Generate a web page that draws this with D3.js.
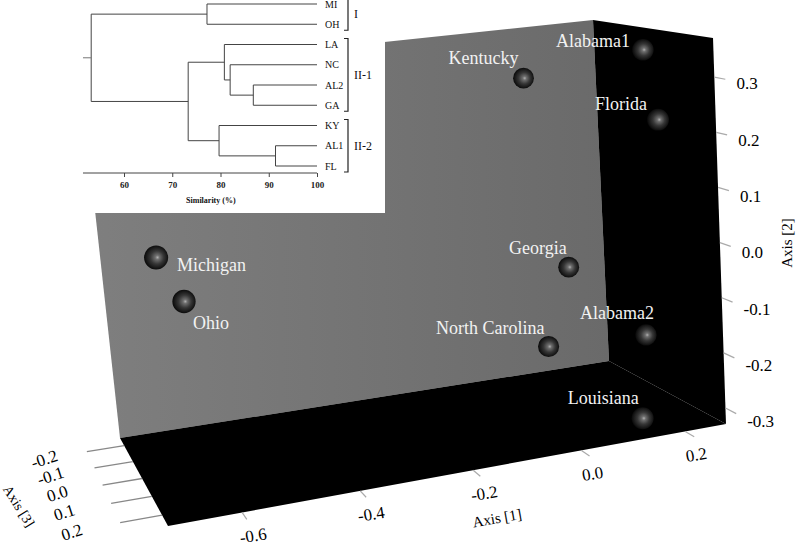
<!DOCTYPE html>
<html>
<head>
<meta charset="utf-8">
<script src="https://cdn.jsdelivr.net/npm/d3@7"></script>
<style>
body { margin: 0; background: #fff; }
svg { display: block; }
</style>
</head>
<body>
<svg id="chart" width="800" height="548" font-family="'Liberation Serif', 'Times New Roman', serif"></svg>
<script>
// site scores on the three ordination axes
var sites = ["Michigan", "Ohio", "Kentucky", "Georgia", "North Carolina", "Alabama1", "Florida", "Alabama2", "Louisiana"];
var axis1 = [-0.685, -0.630, 0.065, 0.118, 0.065, 0.226, 0.226, 0.226, 0.160];
var axis2 = [0.102, -0.007, 0.291, -0.077, -0.221, 0.343, 0.217, -0.203, -0.322];
var axis3 = [0.165, 0.065, -0.091, -0.048, -0.039, 0.089, 0.140, 0.051, 0.164];

var ticks1 = [-0.6, -0.4, -0.2, 0.0, 0.2];
var ticks2 = [-0.3, -0.2, -0.1, 0.0, 0.1, 0.2, 0.3];
var ticks3 = [-0.2, -0.1, 0.0, 0.1, 0.2];

// cluster tree, internal node = [similarity, left, right]
var tree = [53.2,
  [77.2, "MI", "OH"],
  [73.3,
    [80.8, "LA", [82.0, "NC", [86.8, "AL2", "GA"]]],
    [79.7, "KY", [91.4, "AL1", "FL"]]]];
var groupNames = ["I", "II-1", "II-2"];
var groupSpans = [["MI", "OH"], ["LA", "GA"], ["KY", "FL"]];
var simTicks = [60, 70, 80, 90, 100];

var serif = "'Liberation Serif', 'Times New Roman', serif";
var fmt = d3.formatLocale({ decimal: ".", thousands: ",", grouping: [3], currency: ["", ""], minus: "-" }).format(".1f");
var svg = d3.select("#chart");
var defs = svg.append("defs");

// ---- 3d box ----
var x1 = d3.scaleLinear().domain([-0.721, 0.281]).range([0, 1]);
var x2 = d3.scaleLinear().domain([-0.329, 0.371]).range([0, 1]);
var x3 = d3.scaleLinear().domain([-0.25, 0.255]).range([0, 1]);

// screen position of the box corners, key = axis1 hi, axis2 hi, axis3 front
var corner = {
  "000": [120, 438], "100": [609, 361], "010": [80, 74], "110": [593, 20],
  "001": [168, 526], "101": [726, 424], "011": [128, 114], "111": [713, 38]
};
function depth(i, k) { return 1 + 0.1 * i - 0.13 * k; }

// perspective-weighted trilinear map, returns [x, y, depth]
function project(a, b, c) {
  var u = [x1(a), x2(b), x3(c)], sx = 0, sy = 0, sw = 0;
  for (var i = 0; i < 2; i++) for (var j = 0; j < 2; j++) for (var k = 0; k < 2; k++) {
    var w = (i ? u[0] : 1 - u[0]) * (j ? u[1] : 1 - u[1]) * (k ? u[2] : 1 - u[2]) * depth(i, k);
    var p = corner["" + i + j + k];
    sx += w * p[0]; sy += w * p[1]; sw += w;
  }
  return [sx / sw, sy / sw, sw];
}

var d1 = x1.domain(), d2 = x2.domain(), d3d = x3.domain();
function face(pts) {
  return "M" + pts.map(function(p) { var q = project(p[0], p[1], p[2]); return q[0] + "," + q[1]; }).join("L") + "Z";
}

var wallGrad = defs.append("linearGradient").attr("id", "wall")
  .attr("x1", "0%").attr("x2", "100%").attr("y1", "0%").attr("y2", "0%");
wallGrad.append("stop").attr("offset", "0%").attr("stop-color", "#7f7f7f");
wallGrad.append("stop").attr("offset", "100%").attr("stop-color", "#6a6a6a");

var ball = defs.append("radialGradient").attr("id", "ball")
  .attr("cx", "52%").attr("cy", "50%").attr("r", "50%").attr("fx", "56%").attr("fy", "50%");
ball.append("stop").attr("offset", "0%").attr("stop-color", "#b0b0b0");
ball.append("stop").attr("offset", "18%").attr("stop-color", "#6e6e6e");
ball.append("stop").attr("offset", "55%").attr("stop-color", "#363636");
ball.append("stop").attr("offset", "100%").attr("stop-color", "#0c0c0c");

var box = svg.append("g");
box.append("path").attr("fill", "url(#wall)")
  .attr("d", face([[d1[0], d2[0], d3d[0]], [d1[0], d2[1], d3d[0]], [d1[1], d2[1], d3d[0]], [d1[1], d2[0], d3d[0]]]));
box.append("path").attr("fill", "#000")
  .attr("d", face([[d1[1], d2[0], d3d[0]], [d1[1], d2[1], d3d[0]], [d1[1], d2[1], d3d[1]], [d1[1], d2[0], d3d[1]]]));
box.append("path").attr("fill", "#000")
  .attr("d", face([[d1[0], d2[0], d3d[0]], [d1[1], d2[0], d3d[0]], [d1[1], d2[0], d3d[1]], [d1[0], d2[0], d3d[1]]]));

var ax = svg.append("g").attr("font-size", 17).attr("font-family", serif).attr("fill", "#000");
// axis 1 along the front bottom edge
ticks1.forEach(function(v) {
  var a = project(v, d2[0], d3d[1]), b = project(v, d2[0], x3.invert(1.07));
  ax.append("line").attr("x1", a[0]).attr("y1", a[1]).attr("x2", b[0]).attr("y2", b[1])
    .attr("stroke", "#aaa").attr("stroke-width", 1.2);
  ax.append("text").attr("transform", "translate(" + (a[0] + 11) + "," + (a[1] + 23) + ") rotate(-9)")
    .attr("text-anchor", "middle").attr("dy", "0.35em").text(fmt(v));
});
// axis 2 up the front right edge
ticks2.forEach(function(v) {
  var a = project(d1[1], v, d3d[1]), b = project(d1[1], v, x3.invert(1.08)), t = project(d1[1], v, x3.invert(1.16));
  ax.append("line").attr("x1", a[0]).attr("y1", a[1]).attr("x2", b[0]).attr("y2", b[1])
    .attr("stroke", "#aaa").attr("stroke-width", 1.2);
  ax.append("text").attr("x", t[0]).attr("y", t[1] + 2).attr("dy", "0.35em").text(fmt(v));
});
// axis 3 along the left bottom edge
ticks3.forEach(function(v) {
  var a = project(d1[0], d2[0], v), b = project(x1.invert(-0.068), d2[0], v), t = project(x1.invert(-0.15), d2[0], v);
  ax.append("line").attr("x1", a[0]).attr("y1", a[1]).attr("x2", b[0]).attr("y2", b[1])
    .attr("stroke", "#888").attr("stroke-width", 1.3);
  ax.append("text").attr("transform", "translate(" + (t[0] + 3) + "," + t[1] + ") rotate(-18)")
    .attr("text-anchor", "middle").attr("dy", "0.35em").text(fmt(v));
});
ax.append("text").attr("transform", "translate(497,518) rotate(-10)").attr("font-size", 15)
  .attr("text-anchor", "middle").attr("dy", "0.35em").text("Axis [1]");
ax.append("text").attr("transform", "translate(787,243) rotate(-90)").attr("font-size", 15)
  .attr("text-anchor", "middle").attr("dy", "0.35em").text("Axis [2]");
ax.append("text").attr("transform", "translate(19,506) rotate(58)").attr("font-size", 14)
  .attr("text-anchor", "middle").attr("dy", "0.35em").text("Axis [3]");

// spheres, far ones first
var pts = sites.map(function(s, i) {
  var p = project(axis1[i], axis2[i], axis3[i]);
  return { name: s, x: p[0], y: p[1], z: p[2] };
}).sort(function(a, b) { return b.z - a.z; });

svg.append("g").selectAll("circle").data(pts).join("circle")
  .attr("cx", function(d) { return d.x; }).attr("cy", function(d) { return d.y; })
  .attr("r", function(d) { return 10.8 / d.z; })
  .attr("fill", "url(#ball)");

// label placement next to each sphere
var labelAt = {
  "Michigan": [21, 13.5, "start"], "Ohio": [9, 28, "start"],
  "Kentucky": [-5, -14, "end"], "Georgia": [-2, -13.5, "end"],
  "North Carolina": [-4, -13, "end"], "Alabama1": [-13, -3, "end"],
  "Florida": [-11, -10, "end"], "Alabama2": [8, -16, "end"], "Louisiana": [-4, -14, "end"]
};
svg.append("g").attr("font-size", 18).attr("font-family", serif).attr("fill", "#f2f2f2")
  .selectAll("text").data(pts).join("text")
  .attr("x", function(d) { return d.x + labelAt[d.name][0]; })
  .attr("y", function(d) { return d.y + labelAt[d.name][1]; })
  .attr("text-anchor", function(d) { return labelAt[d.name][2]; })
  .text(function(d) { return d.name; });

// ---- dendrogram inset ----
svg.append("rect").attr("x", 0).attr("y", 0).attr("width", 385).attr("height", 213).attr("fill", "#fff");
var dg = svg.append("g").attr("font-family", serif);

var root = d3.hierarchy(tree, function(d) { return Array.isArray(d) ? d.slice(1) : null; });
var leaves = root.leaves().map(function(d) { return d.data; });
var simX = d3.scaleLinear().domain([60, 100]).range([124, 317]);
var leafY = d3.scalePoint().domain(leaves).range([4, 166]);
var simStart = 51.5;

root.eachAfter(function(n) {
  if (n.children) {
    n.x = simX(n.data[0]);
    n.y = d3.mean(n.children, function(c) { return c.y; });
  } else {
    n.x = simX(100);
    n.y = leafY(n.data);
  }
});

dg.selectAll("path.link").data(root.descendants().filter(function(n) { return n.children; }))
  .join("path").attr("class", "link")
  .attr("fill", "none").attr("stroke", "#444").attr("stroke-width", 1)
  .attr("d", function(n) {
    var a = n.children[0], b = n.children[1];
    return "M" + a.x + "," + a.y + "H" + n.x + "V" + b.y + "H" + b.x;
  });
dg.append("line").attr("x1", simX(simStart)).attr("x2", root.x).attr("y1", root.y).attr("y2", root.y)
  .attr("stroke", "#777").attr("stroke-width", 1);

dg.selectAll("text.leaf").data(leaves).join("text").attr("class", "leaf")
  .attr("x", 325).attr("y", function(d) { return leafY(d); }).attr("dy", "0.35em")
  .attr("font-size", 10).attr("fill", "#111").text(function(d) { return d; });

groupSpans.forEach(function(s, i) {
  var y0 = leafY(s[0]) - 6, y1 = leafY(s[1]) + 6;
  dg.append("path").attr("fill", "none").attr("stroke", "#222").attr("stroke-width", 1.2)
    .attr("d", "M344," + y0 + "H348V" + y1 + "H344");
  dg.append("text").attr("x", 354).attr("y", (y0 + y1) / 2).attr("dy", "0.35em")
    .attr("font-size", 12).attr("fill", "#111").text(groupNames[i]);
});

var simAxis = dg.append("g").attr("transform", "translate(0,173)")
  .call(d3.axisBottom(simX).tickValues(simTicks).tickSize(4).tickSizeOuter(0));
simAxis.attr("font-family", serif);
simAxis.select(".domain").remove();
simAxis.selectAll(".tick line").attr("stroke", "#444");
simAxis.selectAll(".tick text").attr("font-size", 9)
  .attr("font-weight", "bold").attr("fill", "#222").attr("dy", "0.9em");
simAxis.append("line").attr("x1", simX(simStart)).attr("x2", simX(100)).attr("stroke", "#444");
dg.append("text").attr("x", simX(78)).attr("y", 200).attr("text-anchor", "middle")
  .attr("font-size", 8).attr("font-weight", "bold").attr("fill", "#111").attr("dy", "0.35em").text("Similarity (%)");
</script>
</body>
</html>
